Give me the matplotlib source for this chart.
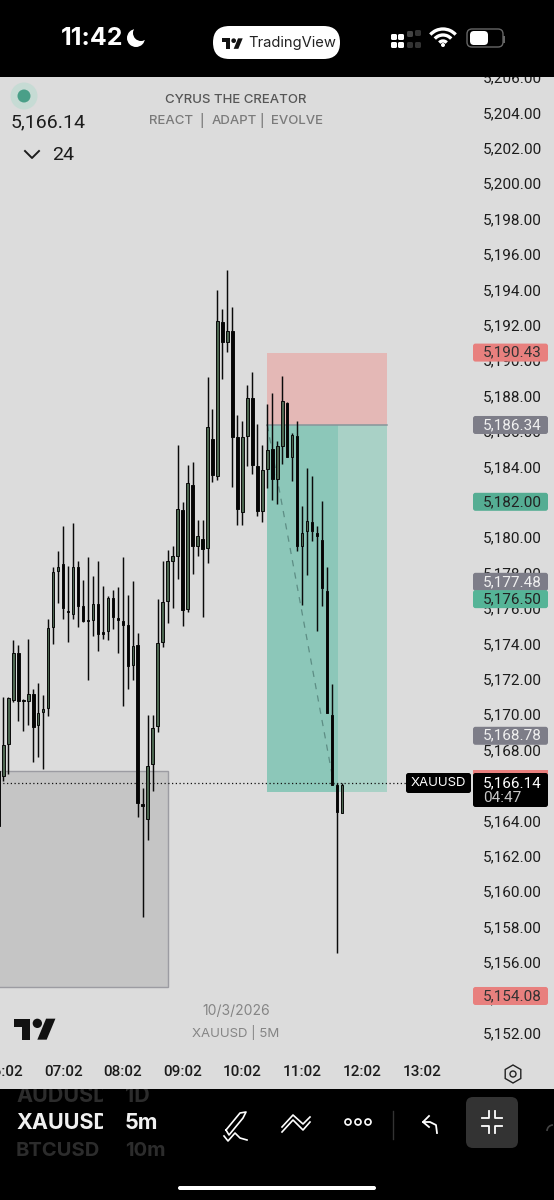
#!/usr/bin/env python3

import matplotlib
matplotlib.use('Agg')
import matplotlib.pyplot as plt
import numpy as np
from matplotlib.patches import Rectangle, FancyBboxPatch, Circle, Polygon, RegularPolygon, Arc

plt.rcParams['font.family'] = ['Inter', 'DejaVu Sans']

# 5 minute candles, first one sits just off the left edge
opens = [5166.80, 5166.53, 5168.32, 5170.80, 5173.46, 5170.80, 5170.77, 5171.14, 5169.41, 5170.11,
         5170.35, 5174.91, 5178.08, 5178.49, 5175.85, 5175.66, 5178.30, 5176.14, 5175.33, 5175.33,
         5176.23, 5174.67, 5174.72, 5176.57, 5175.44, 5175.25, 5175.04, 5172.80, 5173.93, 5164.93,
         5164.08, 5167.19, 5169.35, 5174.06, 5176.38, 5178.68, 5178.96, 5181.56, 5175.94, 5182.97,
         5179.52, 5179.90, 5179.39, 5185.55, 5183.48, 5192.18, 5191.01, 5191.64, 5185.64, 5181.41,
         5185.72, 5187.85, 5184.01, 5181.46, 5183.84, 5185.01, 5183.29, 5185.18, 5187.60, 5184.52,
         5185.74, 5179.52, 5180.33, 5180.86, 5180.26, 5179.84, 5176.98, 5169.97, 5166.01, 5164.41]
highs = [5166.81, 5170.95, 5170.95, 5174.19, 5173.91, 5170.86, 5174.25, 5171.43, 5171.76, 5171.11,
         5175.38, 5178.30, 5179.24, 5180.66, 5178.40, 5180.79, 5178.68, 5177.59, 5178.90, 5177.83,
         5178.68, 5177.27, 5176.70, 5177.02, 5177.17, 5178.87, 5176.76, 5177.55, 5174.57, 5165.83,
         5169.97, 5169.97, 5176.49, 5178.68, 5179.28, 5179.53, 5185.23, 5181.97, 5184.08, 5184.23,
         5180.97, 5180.97, 5189.04, 5187.25, 5193.97, 5192.90, 5195.10, 5192.99, 5186.93, 5186.55,
         5188.62, 5189.32, 5186.40, 5185.23, 5187.53, 5188.13, 5185.46, 5189.13, 5187.62, 5185.87,
         5186.59, 5181.78, 5183.91, 5183.44, 5180.65, 5182.07, 5178.30, 5171.70, 5166.14, 5166.14]
lows = [5163.70, 5166.24, 5166.62, 5170.67, 5169.60, 5169.07, 5169.41, 5167.28, 5167.56, 5166.90,
        5169.88, 5173.97, 5176.27, 5175.38, 5174.06, 5175.38, 5174.91, 5175.19, 5171.93, 5174.44,
        5173.55, 5174.25, 5174.19, 5174.82, 5173.46, 5170.48, 5171.43, 5171.93, 5164.17, 5158.56,
        5162.89, 5165.68, 5168.98, 5173.78, 5175.16, 5176.00, 5177.64, 5175.00, 5175.75, 5177.92,
        5178.96, 5175.47, 5178.52, 5183.10, 5183.23, 5188.94, 5190.45, 5182.82, 5180.71, 5180.71,
        5184.04, 5183.57, 5181.22, 5180.84, 5182.78, 5182.12, 5181.88, 5184.14, 5184.52, 5183.20,
        5179.20, 5176.19, 5177.88, 5179.77, 5174.72, 5176.09, 5170.04, 5166.01, 5156.53, 5164.41]
closes = [5163.71, 5168.26, 5170.90, 5173.44, 5170.77, 5170.73, 5171.14, 5169.26, 5170.07, 5170.31,
          5174.87, 5178.06, 5178.30, 5176.00, 5175.78, 5178.34, 5176.14, 5175.29, 5175.27, 5176.23,
          5174.53, 5174.53, 5176.57, 5175.48, 5175.33, 5175.04, 5172.74, 5173.86, 5164.98, 5164.83,
          5167.09, 5169.22, 5174.01, 5176.32, 5178.64, 5178.96, 5181.59, 5175.89, 5183.04, 5179.52,
          5180.07, 5179.33, 5186.25, 5183.53, 5192.20, 5191.01, 5191.67, 5185.68, 5181.59, 5185.68,
          5187.87, 5184.08, 5181.46, 5183.80, 5184.93, 5183.29, 5185.18, 5187.68, 5184.55, 5185.78,
          5179.52, 5180.24, 5180.90, 5180.33, 5180.07, 5177.11, 5170.04, 5166.01, 5164.45, 5166.01]

time_labels = ['06:02', '07:02', '08:02', '09:02', '10:02', '11:02', '12:02', '13:02']
price_ticks = list(range(5152, 5208, 2))

last_price = 5166.14
stop_price = 5190.43
entry_price = 5186.34
target_price = 5165.6
zone_top, zone_bottom = 5166.79, 5154.59

# price tags on the right: value, box colour, text colour
tag_prices = [5190.43, 5186.34, 5182.00, 5177.48, 5176.50, 5168.78, 5154.08]
tag_colors = ['#e8807e', '#7d7d88', '#55ad93', '#7d7d88', '#55b497', '#7d7d88', '#e8807e']
tag_text = ['#333333', '#f0f0f0', '#222222', '#f0f0f0', '#222222', '#f0f0f0', '#333333']

BG = '#dcdcdc'
NUM_FONT = 'Roboto'
W, H = 554, 1200
CHART_TOP, CHART_BOTTOM = 77, 1089
PX_PER_BAR = 4.98
PX_PER_UNIT = 17.7

fig = plt.figure(figsize=(W / 100, H / 100), dpi=100, facecolor='black')

ax = fig.add_axes([0, (H - CHART_BOTTOM) / H, 1, (CHART_BOTTOM - CHART_TOP) / H], facecolor=BG)
ax.set_xlim((0 - 3.33) / PX_PER_BAR, (W - 3.33) / PX_PER_BAR)
ax.set_ylim(5204 - (CHART_BOTTOM - 112.4) / PX_PER_UNIT, 5204 + (112.4 - CHART_TOP) / PX_PER_UNIT)
for s in ax.spines.values():
    s.set_visible(False)


def py(price):
    return 112.4 + (5204 - price) * PX_PER_UNIT


# drawings under the candles
ax.add_patch(Rectangle((-3, zone_bottom), 36.07, zone_top - zone_bottom, fc='#c5c5c5', ec='#9c9ca2', lw=1, zorder=1))
ax.add_patch(Rectangle((52.95, entry_price), 24.1, stop_price - entry_price, fc='#e4b8b6', ec='none', zorder=1))
ax.add_patch(Rectangle((52.95, target_price), 14.25, entry_price - target_price, fc='#8cc7b9', ec='none', zorder=1))
ax.add_patch(Rectangle((67.2, target_price), 9.85, entry_price - target_price, fc='#a9d1c6', ec='none', zorder=1))
ax.plot([52.95, 77.05], [entry_price, entry_price], color='#86959a', lw=1.1, zorder=1.5)
ax.plot([53, 66.4], [entry_price, 5166.0], color='#5d8d84', lw=0.9, ls=(0, (5, 5)), zorder=1.6)
ax.plot([-1, 81], [last_price, last_price], color='#111111', lw=0.9, ls=(0, (1, 2)), zorder=1.7)

# candles
idx = np.arange(-1, len(opens) - 1)
o = np.array(opens)
c = np.array(closes)
up = c >= o
ax.vlines(idx, lows, highs, color='#0a0a0a', lw=1.05, zorder=3)
ax.bar(idx, np.abs(c - o), 0.52, bottom=np.minimum(o, c), color=np.where(up, '#4c6650', '#050505'),
       edgecolor='#0a0a0a', lw=0.7, zorder=4)

# axes labels sit inside the chart
ax.yaxis.tick_right()
ax.set_yticks(price_ticks, [f'{p:,.2f}' for p in price_ticks])
ax.tick_params(axis='y', length=0, pad=-8.6, labelsize=11, labelcolor='#1c1c1c')
for t in ax.get_yticklabels():
    t.set_ha('right')
    t.set_fontfamily(NUM_FONT)
ax.set_xticks(np.arange(len(time_labels)) * 12, time_labels)
ax.tick_params(axis='x', length=0, pad=-17, labelsize=11, labelcolor='#1c1c1c')
for t in ax.get_xticklabels():
    t.set_fontfamily(NUM_FONT)
    t.set_fontweight('medium')

# overlay in screen pixels for tags, phone bars and icons
ov = fig.add_axes([0, 0, 1, 1], facecolor='none', zorder=5)
ov.set_xlim(0, W)
ov.set_ylim(H, 0)
ov.axis('off')


def box(x0, y0, x1, y1, fc, r=2.5, z=2):
    ov.add_patch(FancyBboxPatch((x0 + r, y0 + r), x1 - x0 - 2 * r, y1 - y0 - 2 * r,
                                boxstyle=f'round,pad={r},rounding_size={r}', fc=fc, ec='none', zorder=z))


def tv_logo(x, y, w, color):
    s = w / 36
    ov.add_patch(Polygon([(x, y + 4 * s), (x + 14 * s, y + 4 * s), (x + 14 * s, y + 22 * s), (x + 7 * s, y + 22 * s),
                          (x + 7 * s, y + 11 * s), (x, y + 11 * s)], fc=color, ec='none', zorder=3))
    ov.add_patch(Polygon([(x + 27.5 * s, y + 4 * s), (x + 35.5 * s, y + 4 * s), (x + 28 * s, y + 22 * s),
                          (x + 20 * s, y + 22 * s)], fc=color, ec='none', zorder=3))
    ov.add_patch(Circle((x + 20 * s, y + 8 * s), 4 * s, fc=color, ec='none', zorder=3))


for p, fc, tc in zip(tag_prices, tag_colors, tag_text):
    box(473, py(p) - 9, 548, py(p) + 9, fc)
    ov.text(542, py(p), f'{p:,.2f}', ha='right', va='center', fontsize=11, family=NUM_FONT, color=tc, zorder=3)

# live price tag
ov.add_patch(Rectangle((473, 770), 75, 5, fc='#e8807e', ec='none', zorder=2))
box(473, 773, 548, 807, 'black')
ov.text(542, 783, f'{last_price:,.2f}', ha='right', va='center', fontsize=11, family=NUM_FONT, color='white', zorder=3)
ov.text(483, 798, '04:47', ha='left', va='center', fontsize=11, family=NUM_FONT, color='#c8c8c8', zorder=3)
box(406, 773, 471, 793, 'black')
ov.text(438.5, 783, 'XAUUSD', ha='center', va='center', fontsize=9.5, color='white', zorder=3)

# top left legend and watermark text
ov.add_patch(Circle((24, 96), 13.5, fc='#c6dbd4', ec='none'))
ov.add_patch(Circle((24, 96), 6.5, fc='#4a9f88', ec='none'))
ov.text(11, 122, f'{last_price:,.2f}', ha='left', va='center', fontsize=14, family=NUM_FONT, color='#1c1c1c')
ov.plot([25, 32, 39], [151, 158, 151], color='#1c1c1c', lw=1.4)
ov.text(52, 155, '24', ha='left', va='center', fontsize=14, family=NUM_FONT, color='#1c1c1c')
ov.text(236, 100, 'CYRUS THE CREATOR', ha='center', va='center', fontsize=9.5, fontweight='medium', color='#565656')
sub_x = [171.5, 202, 234, 262, 296.5]
for x, word in zip(sub_x, ['REACT', '|', 'ADAPT', '|', 'EVOLVE']):
    ov.text(x, 121, word, ha='center', va='center', fontsize=9.5, fontweight='medium', color='#7a7a7a')
ov.text(236, 1011, '10/3/2026', ha='center', va='center', fontsize=10, color='#858585')
ov.text(236, 1032, 'XAUUSD | 5M', ha='center', va='center', fontsize=9.5, color='#858585')
tv_logo(14, 1014, 42, '#111111')

# settings hexagon next to the time axis
ov.add_patch(RegularPolygon((513, 1074), 6, radius=9, fc='none', ec='#222222', lw=1))
ov.add_patch(Circle((513, 1074), 3, fc='none', ec='#222222', lw=1))

# status bar
ov.add_patch(Rectangle((0, 0), W, CHART_TOP, fc='black', ec='none', zorder=1))
ov.text(61, 38.5, '11:42', ha='left', va='center', fontsize=18, fontweight='bold', color='white', zorder=2)
ov.add_patch(Circle((136, 38), 9, fc='white', ec='none', zorder=2))
ov.add_patch(Circle((141, 33), 8, fc='black', ec='none', zorder=3))
box(213, 26, 340, 59, 'white', r=16.5)
tv_logo(222, 36, 21, '#111111')
ov.text(248, 43, 'TradingView', ha='left', va='center', fontsize=10.6, color='#222222', zorder=3)
for dx, dy, col in [(394, 37, 'white'), (401, 37, 'white'), (394, 45, 'white'), (401, 45, 'white'),
                    (410, 34, '#444444'), (418, 33, '#333333'), (410, 45, '#333333'), (418, 45, '#333333')]:
    box(dx - 3, dy - 3, dx + 3, dy + 3, col, r=1.5)
for r in (5, 11, 17):
    ov.add_patch(Arc((443, 46), 2 * r, 2 * r, theta1=-138, theta2=-42, color='white', lw=2.4, zorder=3))
ov.add_patch(Circle((443, 45), 2, fc='white', ec='none', zorder=3))
ov.add_patch(FancyBboxPatch((470, 32), 30, 12, boxstyle='round,pad=3,rounding_size=5', fc='none', ec='#666666', lw=1, zorder=3))
box(470, 31, 488, 45, 'white', r=4, z=3)
ov.add_patch(Rectangle((503, 36), 1.5, 7, fc='#666666', ec='none', zorder=3))

# bottom toolbar
ov.add_patch(Rectangle((0, CHART_BOTTOM), W, H - CHART_BOTTOM, fc='black', ec='none', zorder=1))
sym_clip = Rectangle((0, 1089), 103, 80, transform=ov.transData)
tf_clip = Rectangle((110, 1089), 100, 80, transform=ov.transData)
for y, sym, tf, col, fs in [(1096, 'AUDUSD', '1D', '#2c2c2c', 15.5),
                            (1123, 'XAUUSD', '5m', '#f0f0f0', 15.5),
                            (1151, 'BTCUSD', '10m', '#2c2c2c', 14.5)]:
    t = ov.text(16, y, sym, ha='left', va='center', fontsize=fs, fontweight='bold', color=col, zorder=2)
    t.set_clip_on(True)
    t.set_clip_path(sym_clip)
    t = ov.text(125, y, tf, ha='left', va='center', fontsize=fs, fontweight='bold', color=col, zorder=2)
    t.set_clip_on(True)
    t.set_clip_path(tf_clip)

# pen
ov.plot([226, 240, 246, 243, 229, 226], [1130, 1113, 1112, 1118, 1135, 1130], color='white', lw=1.2, zorder=2)
ov.plot([224, 228, 235, 240, 247], [1136, 1141, 1133, 1138, 1140], color='white', lw=1.2, zorder=2)
# line tool
ov.plot([282, 293, 303, 310], [1132, 1120, 1130, 1122], color='white', lw=1.2, zorder=2)
ov.plot([282, 293, 303, 310], [1127, 1115, 1124, 1117], color='white', lw=1.2, zorder=2)
for x in (348, 358, 368):
    ov.add_patch(Circle((x, 1122), 3, fc='none', ec='white', lw=1.2, zorder=2))
ov.plot([393, 393], [1111, 1139], color='#333333', lw=1, zorder=2)
# undo
ov.plot([437, 436, 430, 423], [1133, 1125, 1122, 1122], color='white', lw=1.3, zorder=2)
ov.plot([429, 423, 429], [1116, 1122, 1127], color='white', lw=1.3, zorder=2)
# fullscreen button
box(466, 1097, 518, 1148, '#333333', r=7)
for sx, sy in [(-1, -1), (1, -1), (-1, 1), (1, 1)]:
    ov.plot([492 + sx * 10, 492 + sx * 3, 492 + sx * 3],
            [1122 + sy * 4, 1122 + sy * 4, 1122 + sy * 11], color='white', lw=1.3, zorder=3)
ov.add_patch(Arc((553, 1131), 12, 12, theta1=180, theta2=270, color='#444444', lw=1.2, zorder=2))
box(178, 1186, 376, 1190, 'white', r=2)

fig.savefig('out.png', dpi=100, facecolor='black')
